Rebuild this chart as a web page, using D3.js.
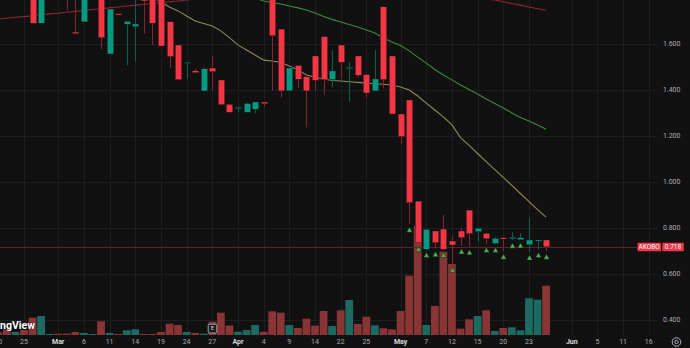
<!DOCTYPE html>
<html><head><meta charset="utf-8">
<script src="https://cdn.jsdelivr.net/npm/d3@7"></script>
<style>html,body{margin:0;padding:0;background:#111111;overflow:hidden}svg{display:block}</style>
</head><body><svg id="c" width="690" height="348"></svg>
<script>
// ---- data (bar index starts at firstBar; bar 0 = "25" Feb) ----
const firstBar = -4;
const open  = [1.90,1.88,1.90,1.83,1.90,1.84,1.69,1.82,1.83,1.84,1.652,1.696,1.82,1.84,1.5565,1.732,1.6857,1.675,1.83,1.82,1.80,1.697,1.5957,1.518,1.484,1.3957,1.4957,1.4435,1.338,1.319,1.303,1.316,1.348,1.80,1.665,1.396,1.507,1.458,1.548,1.632,1.445,1.5957,1.493,1.548,1.467,1.396,1.762,1.548,1.2957,1.3565,0.917,0.7074,0.787,0.7957,0.7435,0.787,0.878,0.784,0.777,0.733,0.758,0.753,0.749,0.7274,0.7435,0.748];
const high  = [1.93,1.92,1.93,1.90,1.92,1.86,1.86,1.84,1.85,1.86,1.82,1.85,1.85,1.86,1.752,1.732,1.699,1.80,1.84,1.83,1.81,1.697,1.5957,1.5205,1.4926,1.497,1.548,1.4435,1.338,1.325,1.342,1.348,1.348,1.81,1.665,1.4957,1.507,1.458,1.548,1.632,1.574,1.5957,1.5217,1.548,1.467,1.574,1.762,1.548,1.2957,1.3565,0.917,0.7943,0.787,0.8565,0.765,0.8013,0.878,0.799,0.777,0.761,0.758,0.781,0.777,0.8435,0.748,0.748];
const low   = [1.86,1.84,1.82,1.81,1.81,1.69,1.69,1.80,1.81,1.748,1.645,1.696,1.80,1.578,1.5565,1.726,1.507,1.523,1.645,1.5957,1.591,1.497,1.445,1.448,1.475,1.3957,1.397,1.336,1.303,1.303,1.303,1.299,1.327,1.397,1.367,1.396,1.407,1.238,1.396,1.378,1.412,1.448,1.349,1.455,1.367,1.396,1.407,1.2957,1.164,0.817,0.733,0.7074,0.711,0.7074,0.643,0.723,0.719,0.740,0.729,0.729,0.700,0.748,0.749,0.696,0.707,0.700];
const close = [1.88,1.86,1.83,1.88,1.82,1.69,1.84,1.83,1.82,1.81,1.645,1.83,1.84,1.627,1.752,1.726,1.699,1.687,1.787,1.69,1.591,1.545,1.445,1.5205,1.475,1.4926,1.4796,1.336,1.303,1.325,1.342,1.348,1.340,1.636,1.396,1.4957,1.4465,1.396,1.442,1.445,1.483,1.5204,1.499,1.464,1.387,1.448,1.445,1.2957,1.197,0.910,0.736,0.7943,0.736,0.7074,0.726,0.758,0.775,0.799,0.753,0.755,0.752,0.760,0.758,0.748,0.748,0.718];
const volume = [20,27,55,30,50,173,190,10,13,13,30,20,10,137,20,10,47,57,10,10,30,113,100,30,20,13,133,223,95,33,50,100,33,237,223,100,70,163,93,240,90,247,350,110,183,97,67,57,240,593,1090,100,290,833,710,63,157,190,247,40,70,77,47,367,353,493];
const maSlow = [1.704,1.708,1.712,1.716,1.719,1.723,1.727,1.731,1.734,1.738,1.742,1.746,1.750,1.753,1.757,1.761,1.765,1.769,1.772,1.776,1.780,1.784,1.787,1.791,1.795,1.798,1.801,1.804,1.807,1.810,1.812,1.814,1.815,1.817,1.817,1.818,1.819,1.819,1.819,1.819,1.819,1.818,1.818,1.817,1.817,1.817,1.816,1.816,1.815,1.815,1.814,1.814,1.813,1.811,1.810,1.807,1.804,1.800,1.796,1.791,1.784,1.776,1.769,1.761,1.753,1.747];
const maMid = [2.061,2.052,2.043,2.035,2.026,2.017,2.009,2.000,1.991,1.983,1.974,1.965,1.957,1.948,1.939,1.930,1.922,1.913,1.904,1.896,1.887,1.878,1.870,1.861,1.852,1.843,1.835,1.826,1.820,1.813,1.807,1.800,1.787,1.780,1.774,1.765,1.757,1.748,1.735,1.720,1.707,1.696,1.685,1.674,1.661,1.648,1.626,1.609,1.593,1.570,1.543,1.517,1.489,1.465,1.444,1.422,1.402,1.383,1.361,1.341,1.322,1.300,1.280,1.265,1.248,1.229];
const maFast = [2.204,2.183,2.157,2.130,2.104,2.078,2.052,2.026,2.000,1.978,1.957,1.935,1.917,1.900,1.883,1.865,1.848,1.830,1.817,1.804,1.783,1.761,1.744,1.722,1.700,1.689,1.678,1.657,1.628,1.596,1.574,1.552,1.530,1.526,1.520,1.504,1.487,1.465,1.456,1.448,1.441,1.439,1.436,1.433,1.430,1.427,1.425,1.422,1.413,1.400,1.374,1.343,1.313,1.283,1.248,1.193,1.159,1.124,1.089,1.054,1.020,0.985,0.950,0.915,0.880,0.847];
const priceTicks = [1.8,1.6,1.4,1.2,1.0,0.8,0.6,0.4];
const tickLabels = ["20","25","Mar","6","11","14","19","24","27","Apr","4","9","14","22","25","May","7","12","15","20","23","Jun","5","11","16"];
const tickBars   = [-3,0,4,7,10,13,16,19,22,25,28,31,34,37,40,44,47,50,53,56,59,64,67,70,73];
const monthLabels = ["Mar","Apr","May","Jun"];
const signalBars = [45,46,47,48,49,50,51,52,54,55,56,57,58,59,60,61];
const earningsBar = 22;
const symbol = "AKOBO";
const lastPrice = 0.718;

// ---- build ----
const bars = open.map((o,k)=>({i:firstBar+k,o,h:high[k],l:low[k],c:close[k],v:volume[k]}));
const svg = d3.select("#c");
const W=690,H=348;
const plotRight=657, plotBottom=335;
const x = d3.scaleLinear().domain([0,73]).range([24,648.8]);
const y = d3.scaleLinear().domain([0.4,1.6]).range([320,44]);
const yv = d3.scaleLinear().domain([0,1000]).range([plotBottom,plotBottom-100]);
const UP="#089981", DN="#f23645";

svg.append("rect").attr("width",W).attr("height",H).attr("fill","#111111");

// grid
const g = svg.append("g");
g.selectAll(".vg").data(tickBars).join("line")
  .attr("x1",d=>Math.round(x(d))+0.5).attr("x2",d=>Math.round(x(d))+0.5)
  .attr("y1",0).attr("y2",plotBottom).attr("stroke","#1e1e1e").attr("stroke-width",1);
g.selectAll(".hg").data(priceTicks).join("line")
  .attr("x1",0).attr("x2",plotRight)
  .attr("y1",d=>Math.round(y(d))+0.5).attr("y2",d=>Math.round(y(d))+0.5)
  .attr("stroke","#1e1e1e").attr("stroke-width",1);

// volume
const bw = x(1)-x(0);
svg.append("g").selectAll("rect").data(bars).join("rect")
  .attr("x",d=>x(d.i)-bw/2+0.4).attr("width",bw-0.8)
  .attr("y",d=>yv(d.v)).attr("height",d=>plotBottom-yv(d.v))
  .attr("fill",d=>d.c>=d.o?"#1d6a60":"#8a3535");

// watermark
svg.append("text").attr("x",35).attr("y",328.5).attr("text-anchor","end")
  .attr("font-family","Roboto, 'Liberation Sans', sans-serif").attr("font-weight","700")
  .attr("font-size",10.5).attr("fill","#ffffff").attr("stroke","#111").attr("stroke-width",0.6)
  .attr("paint-order","stroke").text("TradingView");

// moving averages
const line = arr => d3.line().x((d,k)=>x(firstBar+k)).y(d=>y(d))(arr);
svg.append("path").attr("d",line(maSlow)).attr("fill","none").attr("stroke","#8f2630").attr("stroke-width",1.1);
svg.append("path").attr("d",line(maMid)).attr("fill","none").attr("stroke","#3f8a3a").attr("stroke-width",1.1);
svg.append("path").attr("d",line(maFast)).attr("fill","none").attr("stroke","#8e8a5c").attr("stroke-width",1.1);

// last price line
svg.append("line").attr("x1",0).attr("x2",637).attr("y1",Math.round(y(lastPrice))+0.5).attr("y2",Math.round(y(lastPrice))+0.5)
  .attr("stroke","#5e2228").attr("stroke-width",1);

// candles
const cg = svg.append("g");
cg.selectAll("line").data(bars).join("line")
  .attr("x1",d=>Math.round(x(d.i))+0.5).attr("x2",d=>Math.round(x(d.i))+0.5)
  .attr("y1",d=>y(d.h)).attr("y2",d=>y(d.l))
  .attr("stroke",d=>d.c>=d.o?"#0d5f52":"#862530").attr("stroke-width",1);
const cw=6.6;
cg.selectAll("rect").data(bars).join("rect")
  .attr("x",d=>Math.round(x(d.i))+0.5-cw/2).attr("width",cw)
  .attr("y",d=>y(Math.max(d.o,d.c)))
  .attr("height",d=>Math.max(1.2,Math.abs(y(d.o)-y(d.c))))
  .attr("fill",d=>d.c>=d.o?UP:DN)
  .attr("stroke","#0b0b0b").attr("stroke-width",0.4);

// signals
const barByIdx = new Map(bars.map(b=>[b.i,b]));
svg.append("g").selectAll("path").data(signalBars).join("path")
  .attr("d",d3.symbol(d3.symbolTriangle,15))
  .attr("transform",d=>`translate(${Math.round(x(d))+0.5},${y(barByIdx.get(d).l)+6.5})`)
  .attr("fill","#4caf50").attr("stroke","#0b0b0b").attr("stroke-width",0.4);

// earnings marker
const ex = Math.round(x(earningsBar))+0.5;
svg.append("rect").attr("x",ex-4.3).attr("y",324.2).attr("width",8.6).attr("height",8.8).attr("rx",1)
  .attr("fill","#1a1a1a").attr("stroke","#a0a3ab").attr("stroke-width",1);
svg.append("text").attr("x",ex).attr("y",328.8).attr("text-anchor","middle").attr("dominant-baseline","middle")
  .attr("font-family","Roboto, sans-serif").attr("font-size",6).attr("fill","#d1d4dc").text("E");

// price axis labels
svg.append("g").selectAll("text").data(priceTicks).join("text")
  .attr("x",680.5).attr("y",d=>y(d)+0.5).attr("text-anchor","end").attr("dominant-baseline","middle")
  .attr("font-family","Roboto, 'Liberation Sans', sans-serif").attr("font-size",7).attr("fill","#a9abb2")
  .text(d=>d3.format(".3f")(d));

// time axis labels
svg.append("g").selectAll("text").data(tickLabels).join("text")
  .attr("x",(d,k)=>x(tickBars[k])).attr("y",342.5).attr("text-anchor","middle").attr("dominant-baseline","middle")
  .attr("font-family","Roboto, 'Liberation Sans', sans-serif").attr("font-size",7)
  .attr("font-weight",d=>monthLabels.includes(d)?"700":"400")
  .attr("fill",d=>monthLabels.includes(d)?"#d8d9dc":"#a9abb2")
  .text(d=>d);

// last price tags
const ly = y(lastPrice);
svg.append("rect").attr("x",637.5).attr("y",ly-4.2).attr("width",23.5).attr("height",8.6).attr("rx",1).attr("fill",DN);
svg.append("rect").attr("x",662.3).attr("y",ly-4.2).attr("width",21.5).attr("height",8.6).attr("rx",1).attr("fill",DN);
svg.append("text").attr("x",649.2).attr("y",ly+0.3).attr("text-anchor","middle").attr("dominant-baseline","middle")
  .attr("font-family","Roboto, sans-serif").attr("font-size",6.5).attr("fill","#ffffff").text(symbol);
svg.append("text").attr("x",673).attr("y",ly+0.3).attr("text-anchor","middle").attr("dominant-baseline","middle")
  .attr("font-family","Roboto, sans-serif").attr("font-size",6.5).attr("fill","#ffffff").text(d3.format(".3f")(lastPrice));

// settings icon
const gi = svg.append("g").attr("transform","translate(676.5,342)");
gi.append("circle").attr("r",4.3).attr("fill","none").attr("stroke","#b2b5be").attr("stroke-width",1);
gi.append("circle").attr("r",1.7).attr("fill","none").attr("stroke","#b2b5be").attr("stroke-width",0.9);
</script></body></html>
